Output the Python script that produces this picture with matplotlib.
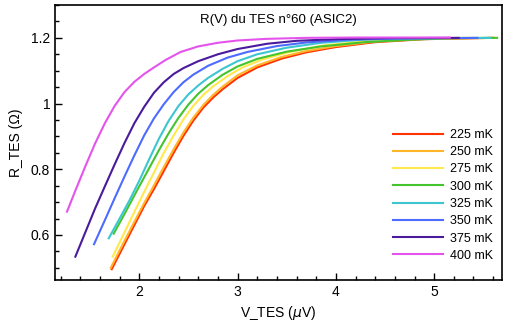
import matplotlib.pyplot as plt
from matplotlib.ticker import MultipleLocator

plt.rcParams['font.family'] = ['Liberation Sans', 'DejaVu Sans']

labels = ["225 mK", "250 mK", "275 mK", "300 mK", "325 mK", "350 mK", "375 mK", "400 mK"]
colors = ["#ff3300", "#ffb52a", "#ffe94d", "#44c52e", "#3cc6d0", "#4e6bff", "#4a1a9c", "#e454ec"]

v_225 = [1.72, 1.85, 1.95, 2.05, 2.15, 2.25, 2.35, 2.45, 2.55, 2.65, 2.75, 2.85, 3.00, 3.20, 3.45, 3.70, 4.00, 4.40, 4.90, 5.60]
r_225 = [0.496, 0.572, 0.630, 0.688, 0.740, 0.795, 0.850, 0.902, 0.948, 0.987, 1.018, 1.044, 1.078, 1.110, 1.137, 1.156, 1.172, 1.187, 1.196, 1.200]

v_250 = [1.71, 1.85, 1.95, 2.05, 2.13, 2.25, 2.35, 2.45, 2.55, 2.65, 2.75, 2.85, 3.00, 3.20, 3.45, 3.70, 4.00, 4.40, 4.90, 5.60]
r_250 = [0.500, 0.582, 0.640, 0.697, 0.740, 0.807, 0.861, 0.912, 0.957, 0.995, 1.026, 1.052, 1.086, 1.116, 1.142, 1.160, 1.175, 1.189, 1.197, 1.200]

v_275 = [1.73, 1.85, 1.95, 2.06, 2.15, 2.25, 2.35, 2.45, 2.55, 2.65, 2.75, 2.90, 3.05, 3.25, 3.50, 3.85, 4.36, 4.90, 5.40]
r_275 = [0.534, 0.608, 0.670, 0.737, 0.790, 0.850, 0.903, 0.952, 0.993, 1.026, 1.052, 1.084, 1.110, 1.134, 1.155, 1.176, 1.192, 1.199, 1.200]

v_300 = [1.74, 1.85, 1.98, 2.10, 2.20, 2.30, 2.40, 2.50, 2.60, 2.70, 2.85, 3.00, 3.20, 3.50, 3.85, 4.30, 4.80, 5.20, 5.64]
r_300 = [0.604, 0.664, 0.737, 0.803, 0.858, 0.910, 0.957, 0.997, 1.030, 1.056, 1.088, 1.113, 1.136, 1.158, 1.174, 1.187, 1.195, 1.199, 1.200]

v_325 = [1.69, 1.80, 1.90, 2.00, 2.10, 2.20, 2.30, 2.40, 2.50, 2.60, 2.70, 2.85, 3.00, 3.20, 3.50, 3.85, 4.30, 4.90, 5.57]
r_325 = [0.590, 0.650, 0.705, 0.765, 0.830, 0.893, 0.948, 0.993, 1.028, 1.055, 1.078, 1.106, 1.129, 1.150, 1.170, 1.185, 1.195, 1.199, 1.200]

v_350 = [1.54, 1.65, 1.75, 1.85, 1.95, 2.05, 2.15, 2.25, 2.35, 2.45, 2.55, 2.70, 2.90, 3.10, 3.40, 3.70, 4.10, 4.60, 5.44]
r_350 = [0.572, 0.645, 0.712, 0.778, 0.842, 0.903, 0.955, 0.998, 1.035, 1.065, 1.088, 1.115, 1.140, 1.157, 1.175, 1.186, 1.194, 1.198, 1.200]

v_375 = [1.35, 1.45, 1.55, 1.65, 1.75, 1.85, 1.95, 2.05, 2.15, 2.25, 2.35, 2.45, 2.60, 2.80, 3.00, 3.30, 3.60, 4.00, 4.50, 5.25]
r_375 = [0.534, 0.607, 0.680, 0.748, 0.815, 0.880, 0.940, 0.990, 1.033, 1.065, 1.090, 1.108, 1.129, 1.150, 1.166, 1.182, 1.191, 1.196, 1.199, 1.200]

v_400 = [1.265, 1.35, 1.45, 1.55, 1.65, 1.75, 1.85, 1.95, 2.05, 2.15, 2.27, 2.42, 2.60, 2.80, 3.00, 3.30, 3.70, 4.20, 5.16]
r_400 = [0.671, 0.735, 0.808, 0.878, 0.940, 0.993, 1.035, 1.066, 1.090, 1.110, 1.133, 1.157, 1.174, 1.185, 1.192, 1.197, 1.200, 1.201, 1.201]

volts = [v_225, v_250, v_275, v_300, v_325, v_350, v_375, v_400]
resist = [r_225, r_250, r_275, r_300, r_325, r_350, r_375, r_400]

fig = plt.figure(figsize=(5.05, 3.25), dpi=100)
ax = fig.add_axes([55 / 505, 45 / 325, 447 / 505, 275 / 325])

for v, r, c, lab in zip(volts, resist, colors, labels):
    ax.plot(v, r, color=c, linewidth=1.5, label=lab)

ax.set_xlim(1.143, 5.69)
ax.set_ylim(0.463, 1.30)
ax.xaxis.set_major_locator(MultipleLocator(1))
ax.xaxis.set_minor_locator(MultipleLocator(0.2))
ax.yaxis.set_major_locator(MultipleLocator(0.2))
ax.yaxis.set_minor_locator(MultipleLocator(0.05))
ax.set_yticks([0.6, 0.8, 1.0, 1.2])
ax.set_yticklabels(["0.6", "0.8", "1", "1.2"])
ax.tick_params(which="both", direction="in", top=False, right=False, labelsize=10, width=1)
ax.tick_params(which="major", length=5)
ax.tick_params(which="minor", length=3)
for s in ax.spines.values():
    s.set_linewidth(1.2)

ax.set_xlabel("V_TES ($\\mu$V)", fontsize=10, labelpad=4)
ax.set_ylabel("R_TES (Ω)", fontsize=10, labelpad=6)
ax.text(0.5, 0.945, "R(V) du TES n°60 (ASIC2)", transform=ax.transAxes,
        ha="center", va="center", fontsize=9.5)

ax.legend(loc="upper right", bbox_to_anchor=(1.004, 0.59), frameon=False, fontsize=9,
          handlelength=4.0, handletextpad=0.5, labelspacing=0.42)

fig.savefig("out.png", dpi=100)
